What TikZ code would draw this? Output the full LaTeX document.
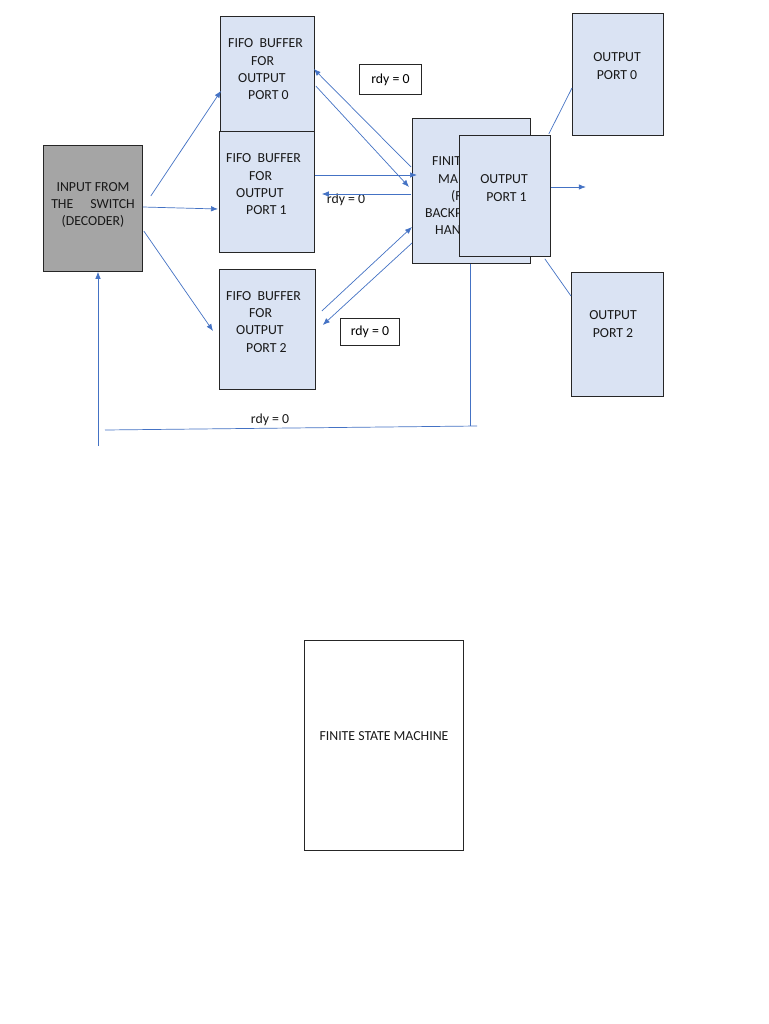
\documentclass[tikz,border=0pt]{standalone}
\usepackage{fontspec}
\setmainfont{Carlito}
\usetikzlibrary{arrows.meta}
\definecolor{boxblue}{HTML}{DAE3F3}
\definecolor{boxgray}{HTML}{A5A5A5}
\definecolor{lineblue}{HTML}{4472C4}
\tikzset{
  blk/.style={draw=black!85, line width=0.8pt, anchor=north west, inner sep=0pt},
  bluebox/.style={blk, fill=boxblue},
  txt/.style={font=\fontsize{13.8}{17.4}\selectfont, inner sep=0pt, text=black!90},
  frag/.style={txt, anchor=base west},
  conn/.style={draw=lineblue, line width=0.7pt},
  arr/.style={conn, -{Latex[length=7pt,width=5.5pt]}},
  rdybox/.style={draw=black!85, line width=0.8pt, fill=white, inner sep=0pt, font=\fontsize{13.8}{16}\selectfont},
}
\newcommand{\fifotxt}[1]{FIFO\ \ BUFFER\\\hspace*{23pt}FOR\\\hspace*{10pt}OUTPUT\\\hspace*{20pt}PORT #1}
\begin{document}
\begin{tikzpicture}[x=1pt,y=-1pt]
\useasboundingbox (0,0) rectangle (768,1024);
\fill[white] (0,0) rectangle (768,1024);

% input
\node[blk, fill=boxgray, minimum width=99pt, minimum height=126pt] (inp) at (43,145) {};
\node[txt, align=center] (inptxt) at (93,205) {INPUT FROM\\THE\hspace{17pt}SWITCH\\(DECODER)};

% FIFO boxes
\node[bluebox, minimum width=94pt, minimum height=115pt] (f0) at (220,16) {};
\node[bluebox, minimum width=95pt, minimum height=121pt] (f1) at (219,131) {};
\node[bluebox, minimum width=96pt, minimum height=120pt] (f2) at (219,269) {};
\node[txt, align=left, anchor=north west] (f0t) at (228,38.5) {\fifotxt{0}};
\node[txt, align=left, anchor=north west] (f1t) at (226,153.5) {\fifotxt{1}};
\node[txt, align=left, anchor=north west] (f2t) at (226,291) {\fifotxt{2}};

% FSM (for backpressure), its text partly hidden by output port 1
\node[bluebox, minimum width=118pt, minimum height=145pt] (fsm) at (412,118) {};
\begin{scope}
\clip (412,118) rectangle (459,263);
\node[frag] (fsm1) at (432,166) {FINIT};
\node[frag] (fsm2) at (438,184) {MA};
\node[frag] (fsm3) at (451,201) {(F};
\node[frag] (fsm4) at (425,218) {BACKP};
\node[frag] (fsm5) at (435,234) {HAN};
\end{scope}

% output ports
\node[bluebox, minimum width=91pt, minimum height=121pt] (op1) at (459,135) {};
\node[txt, align=center] (op1t) at (504,188) {OUTPUT\\\hspace*{5pt}PORT 1};
\node[bluebox, minimum width=91pt, minimum height=122pt] (op0) at (572,13) {};
\node[txt, align=center] (op0t) at (617,66) {OUTPUT\\PORT 0};
\node[bluebox, minimum width=92pt, minimum height=124pt] (op2) at (571,272) {};
\node[txt, align=center] (op2t) at (613,324) {OUTPUT\\PORT 2};

% rdy labels
\node[rdybox, anchor=north west, minimum width=62pt, minimum height=30pt] (rdy0) at (359,64) {rdy = 0};
\node[rdybox, anchor=north west, minimum width=59pt, minimum height=27pt] (rdy2) at (340,318) {rdy = 0};
\node[txt] (rdy1) at (346,200) {rdy = 0};
\node[txt] (rdyb) at (270,420) {rdy = 0};

% bottom FSM
\node[blk, fill=white, minimum width=159pt, minimum height=210pt] (fsmb) at (304,640) {};
\node[txt] (fsmbt) at (384,736) {FINITE STATE MACHINE};

% connectors input -> fifos
\draw[arr] ([shift={(8,51)}]inp.north east) -- ([shift={(1,-41)}]f0.south west);
\draw[arr] ([shift={(0,62)}]inp.north east) -- ([shift={(-1,78)}]f1.north west);
\draw[arr] ([shift={(1,86)}]inp.north east) -- ([shift={(-6,62)}]f2.north west);

% fifo0 <-> fsm
\draw[arr] ([shift={(-1,49)}]fsm.north west) -- ([shift={(-1,53)}]f0.north east);
\draw[arr] ([shift={(1,70)}]f0.north east) -- ([shift={(-3,69)}]fsm.north west);
% fifo1 <-> fsm
\draw[arr] ([shift={(0,44)}]f1.north east) -- ([shift={(5,57)}]fsm.north west);
\draw[arr] ([shift={(-1,76)}]fsm.north west) -- ([shift={(7,63)}]f1.north east);
% fifo2 <-> fsm
\draw[arr] ([shift={(6,42)}]f2.north east) -- ([shift={(0,109)}]fsm.north west);
\draw[arr] ([shift={(0,125)}]fsm.north west) -- ([shift={(7,56)}]f2.north east);

% output connectors
\draw[arr] ([shift={(0,52)}]op1.north east) -- ++(35,0) coordinate (oend);
\draw[conn] ([shift={(-2,-1)}]op1.north east) -- ([shift={(0,75)}]op0.north west);
\draw[conn] ([shift={(-6,2)}]op1.south east) -- ([shift={(0,24)}]op2.north west);

% feedback line
\coordinate (fb1) at (470,426);
\coordinate (fb2) at (477,426);
\coordinate (fb3) at (105,430);
\coordinate (fb4) at (98,446);
\draw[conn] ([xshift=58pt]fsm.south west) -- (fb1);
\draw[conn] (fb2) -- (fb3);
\draw[arr] (fb4) -- ([xshift=55pt]inp.south west);
\end{tikzpicture}
\end{document}
